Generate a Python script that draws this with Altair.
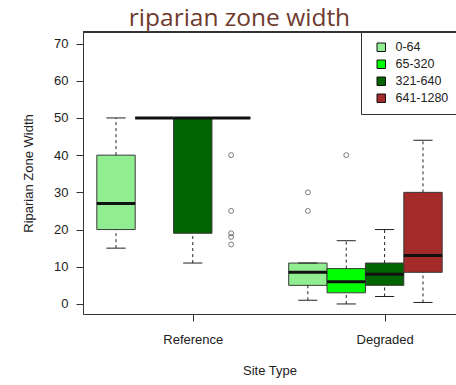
import altair as alt
import pandas as pd

# Site types and stream-size classes
groups = ["Reference", "Degraded"]
classes = ["0-64", "65-320", "321-640", "641-1280"]
class_colors = ["#90EE90", "#00FF00", "#006400", "#A52A2A"]

# Box statistics, per site type, in class order
ref_low = [15, 50, 11, 50]
ref_q1 = [20, 50, 19, 50]
ref_median = [27, 50, 50, 50]
ref_q3 = [40, 50, 50, 50]
ref_high = [50, 50, 50, 50]

deg_low = [1, 0, 2, 0.4]
deg_q1 = [5, 3, 5, 8.5]
deg_median = [8.5, 6, 8, 13]
deg_q3 = [11, 9.5, 11, 30]
deg_high = [11, 17, 20, 44]

# Outlying values: (site type, class, value)
outlier_group = ["Reference"] * 5 + ["Degraded"] * 3
outlier_class = ["641-1280"] * 5 + ["0-64", "0-64", "65-320"]
outlier_value = [40, 25, 19, 18, 16, 30, 25, 40]

stats = {
    "Reference": (ref_low, ref_q1, ref_median, ref_q3, ref_high),
    "Degraded": (deg_low, deg_q1, deg_median, deg_q3, deg_high),
}


def slot(g, c):
    # boxes sit side by side, one empty slot between site types
    return groups.index(g) * 5 + classes.index(c) + 1


rows = []
for g in groups:
    lo, q1, md, q3, hi = stats[g]
    for i, c in enumerate(classes):
        s = slot(g, c)
        rows.append(dict(group=g, cls=c, slot=s, box_l=s - 0.5, box_r=s + 0.5,
                         cap_l=s - 0.25, cap_r=s + 0.25,
                         low=lo[i], q1=q1[i], median=md[i], q3=q3[i], high=hi[i]))
boxes = pd.DataFrame(rows)

outliers = pd.DataFrame({"group": outlier_group, "cls": outlier_class, "value": outlier_value})
outliers["slot"] = [slot(g, c) for g, c in zip(outliers["group"], outliers["cls"])]

W, H = 373, 282
FONT = "Liberation Sans"
INK = "#333333"

x_scale = alt.Scale(domain=[0.14, 9.86], nice=False, zero=False)
y_scale = alt.Scale(domain=[-2.7, 73.1], nice=False, zero=False)

x_axis = alt.Axis(values=[3, 8], labelExpr="datum.value == 3 ? 'Reference' : 'Degraded'",
                  title="Site Type", grid=False, tickSize=7, labelPadding=12,
                  titlePadding=18, domainColor=INK, tickColor=INK)
y_axis = alt.Axis(values=list(range(0, 71, 10)), title="Riparian Zone Width", grid=False,
                  tickSize=7, labelPadding=8, titlePadding=18, domainColor=INK,
                  tickColor=INK)


def X(field):
    return alt.X(f"{field}:Q", scale=x_scale, axis=x_axis, title="Site Type")


def Y(field):
    return alt.Y(f"{field}:Q", scale=y_scale, axis=y_axis, title="Riparian Zone Width")


base = alt.Chart(boxes)

box = base.mark_rect(stroke="#3a3a3a", strokeWidth=1).encode(
    x=X("box_l"), x2="box_r", y=Y("q1"), y2="q3",
    color=alt.Color("cls:N", scale=alt.Scale(domain=classes, range=class_colors),
                    legend=alt.Legend(title=None, orient="none", legendX=278, legendY=0,
                                      strokeColor=INK, fillColor="white", padding=9,
                                      symbolType="square", symbolSize=72,
                                      symbolStrokeColor="#111111", symbolStrokeWidth=1,
                                      symbolOffset=5, labelOffset=8, rowPadding=4,
                                      labelFontSize=12.5, labelFont=FONT,
                                      labelColor="#222222")),
)

upper_whisker = base.mark_rule(color="#222222", strokeWidth=1, strokeDash=[3, 3]).encode(
    x=X("slot"), y=Y("q3"), y2="high")
lower_whisker = base.mark_rule(color="#222222", strokeWidth=1, strokeDash=[3, 3]).encode(
    x=X("slot"), y=Y("low"), y2="q1")
upper_cap = base.mark_rule(color="#222222", strokeWidth=1).encode(
    x=X("cap_l"), x2="cap_r", y=Y("high"))
lower_cap = base.mark_rule(color="#222222", strokeWidth=1).encode(
    x=X("cap_l"), x2="cap_r", y=Y("low"))
median = base.mark_rule(color="#111111", strokeWidth=3).encode(
    x=X("box_l"), x2="box_r", y=Y("median"))

points = alt.Chart(outliers).mark_point(shape="circle", filled=False, size=24,
                                        color="#444444", strokeWidth=1).encode(
    x=X("slot"), y=Y("value"))

# upper frame line of the plot box
frame_top = base.mark_rule(color=INK, strokeWidth=1).encode(
    x=alt.value(0), x2=alt.value(W + 2), y=alt.value(0))

chart = alt.layer(
    box, upper_whisker, lower_whisker, upper_cap, lower_cap, median, points, frame_top
).properties(
    width=W, height=H,
    title=alt.TitleParams("riparian zone width", font="Open Sans", fontSize=24.5,
                          fontWeight="normal", color="#6e3b2e", anchor="middle",
                          frame="group", dx=-30, dy=27, baseline="alphabetic", offset=8),
    padding={"left": 83, "top": 32, "right": 0, "bottom": 71},
    autosize=alt.AutoSizeParams(type="none"),
).configure_view(stroke=None).configure_axis(
    labelFont=FONT, titleFont=FONT, labelFontSize=13, titleFontSize=13,
    labelColor="#222222", titleColor="#222222", titleFontWeight="normal",
).configure_axisY(labelAngle=0)

chart.save("out.html", embed_options={"renderer": "svg", "actions": False})
